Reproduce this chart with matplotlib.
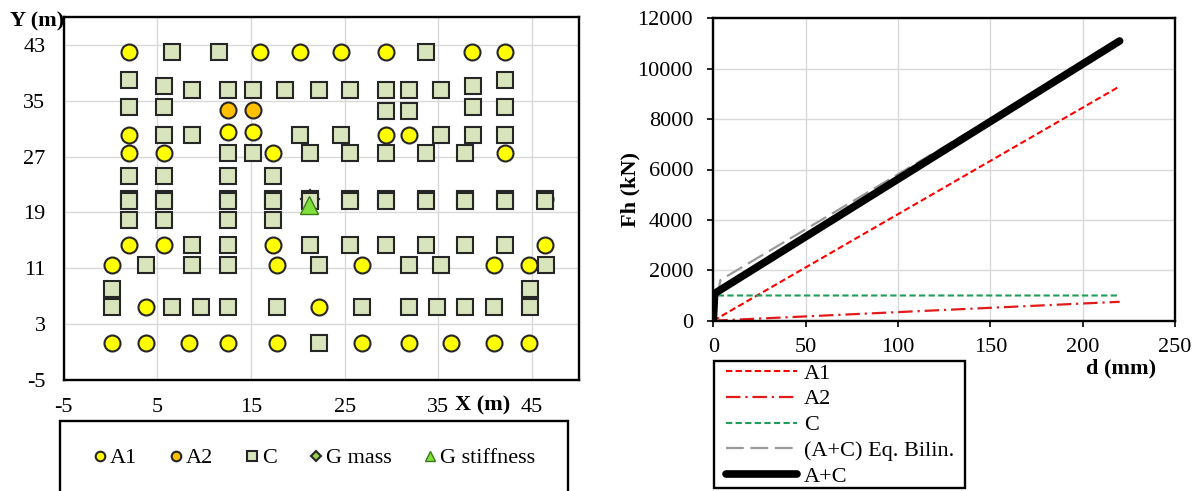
import matplotlib
matplotlib.use("Agg")
import matplotlib.pyplot as plt
from matplotlib.patches import Rectangle

plt.rcParams['font.family'] = 'Liberation Serif'
plt.rcParams['font.size'] = 16
plt.rcParams['axes.unicode_minus'] = False

# ---- plan view: element positions (m) ----
a1_x = [2.0, 16.0, 20.2, 24.6, 29.4, 38.6, 42.1,
        2.0, 12.6, 15.2, 29.4, 31.9,
        2.0, 5.7, 17.3, 42.1,
        46.4,
        2.0, 5.7, 17.3, 46.4,
        0.15, 17.8, 26.9, 40.9, 44.7,
        3.8, 22.3,
        0.15, 3.8, 8.4, 12.6, 17.8, 26.9, 31.9, 36.3, 40.9, 44.7]
a1_y = [42.0, 42.0, 42.0, 42.0, 42.0, 42.0, 42.0,
        30.1, 30.5, 30.5, 30.1, 30.1,
        27.5, 27.5, 27.5, 27.5,
        20.9,
        14.3, 14.3, 14.3, 14.3,
        11.5, 11.5, 11.5, 11.5, 11.5,
        5.4, 5.4,
        0.24, 0.24, 0.24, 0.24, 0.24, 0.24, 0.24, 0.24, 0.24, 0.24]

a2_x = [12.6, 15.2]
a2_y = [33.7, 33.7]

c_x = [6.6, 11.6, 33.7,
       2.0, 42.1,
       5.7, 38.7,
       8.7, 12.6, 15.2, 18.6, 22.3, 25.6, 29.4, 31.9, 35.3,
       2.0, 5.7, 38.7, 42.1,
       29.4, 31.9,
       5.7, 8.7, 20.2, 24.6, 35.3, 38.7, 42.1,
       12.6, 15.2, 21.3, 25.6, 29.4, 33.7, 37.8,
       2.0, 5.7, 12.6, 17.3,
       2.0, 5.7, 12.6, 17.3, 21.3, 25.6, 29.4, 33.7, 37.8, 42.1, 46.4,
       2.0, 5.7, 12.6, 17.3, 21.3, 25.6, 29.4, 33.7, 37.8, 42.1, 46.4,
       2.0, 5.7, 12.6, 17.3,
       8.7, 12.6, 21.3, 25.6, 29.4, 33.7, 37.8, 42.1,
       3.8, 8.7, 12.6, 22.3, 31.9, 35.3, 46.5,
       0.15, 44.75,
       0.15, 6.6, 9.7, 12.6, 17.8, 26.9, 31.9, 34.9, 37.8, 40.9, 44.75,
       22.3]
c_y = [42.0, 42.0, 42.0,
       38.0, 38.0,
       37.1, 37.1,
       36.6, 36.6, 36.6, 36.6, 36.6, 36.6, 36.6, 36.6, 36.6,
       34.1, 34.1, 34.1, 34.1,
       33.6, 33.6,
       30.1, 30.1, 30.1, 30.1, 30.1, 30.1, 30.1,
       27.5, 27.5, 27.5, 27.5, 27.5, 27.5, 27.5,
       24.2, 24.2, 24.2, 24.2,
       20.95, 20.95, 20.95, 20.95, 20.95, 20.95, 20.95, 20.95, 20.95, 20.95, 20.95,
       20.6, 20.6, 20.6, 20.6, 20.6, 20.6, 20.6, 20.6, 20.6, 20.6, 20.6,
       17.9, 17.9, 17.9, 17.9,
       14.3, 14.3, 14.3, 14.3, 14.3, 14.3, 14.3, 14.3,
       11.5, 11.5, 11.5, 11.5, 11.5, 11.5, 11.5,
       8.0, 8.0,
       5.4, 5.4, 5.4, 5.4, 5.4, 5.4, 5.4, 5.4, 5.4, 5.4, 5.4,
       0.24]

g_mass = (21.3, 20.9)
g_stiff = (21.2, 20.0)

# ---- capacity curves ----
d_a1, fh_a1 = [0, 220], [0, 9300]
d_a2, fh_a2 = [0, 220], [0, 750]
d_c, fh_c = [0, 0.5, 220], [0, 1000, 1000]
d_bil, fh_bil = [0, 3.8, 220], [0, 1610, 11050]
d_ac, fh_ac = [0, 0.7, 220], [0, 1080, 11100]

W, H = 1202, 491
fig = plt.figure(figsize=(W / 100, H / 100), dpi=100)

edge = '#262626'
grid_c = '#d9d9d9'

# ---------------- left: plan ----------------
ax1 = fig.add_axes([63.5 / W, 1 - 380 / H, (579 - 63.5) / W, (380 - 17) / H])
ax1.plot(a1_x, a1_y, ls='none', marker='o', ms=11.5, mfc='#ffff00', mec=edge, mew=1.5, label='A1', zorder=3)
ax1.plot(a2_x, a2_y, ls='none', marker='o', ms=11.5, mfc='#ffc000', mec=edge, mew=1.5, label='A2', zorder=3)
ax1.plot([g_mass[0]], [g_mass[1]], ls='none', marker='D', ms=9, mfc='#92d050', mec=edge, mew=1.5,
         label='G mass', zorder=3.5)
ax1.plot(c_x, c_y, ls='none', marker='s', ms=11.5, mfc='#d8e4bc', mec=edge, mew=1.5, label='C', zorder=4)
ax1.plot([g_stiff[0]], [g_stiff[1]], ls='none', marker='^', ms=13, mfc='#7fe03c', mec='#3d7a1a', mew=1.0,
         label='G stiffness', zorder=5)

ax1.set_xlim(-5, 50)
ax1.set_ylim(-5, 47)
ax1.set_xticks(range(-5, 46, 10))
ax1.set_yticks(range(-5, 44, 8))
ax1.grid(True, color=grid_c, lw=1.0)
ax1.set_axisbelow(True)
ax1.tick_params(length=0, pad=13)
for s in ax1.spines.values():
    s.set_linewidth(1.7)
fig.text(37 / W, 1 - 21 / H, 'Y (m)', fontweight='bold', ha='center', va='center')
fig.text(483 / W, 1 - 405 / H, 'X (m)', fontweight='bold', ha='center', va='center')

h, l = ax1.get_legend_handles_labels()
order = [0, 1, 3, 2, 4]
ax1.legend([h[i] for i in order], [l[i] for i in order], ncol=5, loc='center left',
           bbox_to_anchor=(94 / W, 1 - 458 / H), bbox_transform=fig.transFigure,
           frameon=False, markerscale=0.6, handlelength=0.5, handletextpad=0.2,
           columnspacing=1.5, borderpad=0, borderaxespad=0)
fig.add_artist(Rectangle((60 / W, -0.1), (568 - 60) / W, 0.1 + 1 - 421 / H,
                         transform=fig.transFigure, fill=False, ec='black', lw=1.7))

# ---------------- right: force-displacement ----------------
ax2 = fig.add_axes([713.3 / W, 1 - 320.7 / H, (1175 - 713.3) / W, (320.7 - 18.3) / H])
ax2.plot(d_a1, fh_a1, color='#ff0000', lw=1.5, ls=(0, (3, 1.6)), label='A1')
ax2.plot(d_a2, fh_a2, color='#e31a1a', lw=1.6, ls=(0, (6.5, 2.2, 1, 2.2)), label='A2')
ax2.plot(d_c, fh_c, color='#1f9e5a', lw=1.5, ls=(0, (3, 1.6)), label='C')
ax2.plot(d_bil, fh_bil, color='#999999', lw=1.6, ls=(0, (8, 3)), label='(A+C) Eq. Bilin.')
ax2.plot(d_ac, fh_ac, color='black', lw=5.5, solid_capstyle='round', label='A+C')

ax2.set_xlim(0, 250)
ax2.set_ylim(0, 12000)
ax2.set_xticks(range(0, 251, 50))
ax2.set_yticks(range(0, 12001, 2000))
ax2.grid(True, color=grid_c, lw=1.0)
ax2.set_axisbelow(True)
ax2.tick_params(direction='out', length=4.5, width=1.2, top=False, right=False)
ax2.tick_params(axis='y', pad=10)
ax2.tick_params(axis='x', pad=8)
for s in ax2.spines.values():
    s.set_linewidth(1.7)
fig.text(630 / W, 1 - 190 / H, 'Fh (kN)', fontweight='bold', rotation=90, ha='center', va='center')
fig.text(1121 / W, 1 - 368 / H, 'd (mm)', fontweight='bold', ha='center', va='center')

ax2.legend(loc='upper left', bbox_to_anchor=(726 / W, 1 - 363 / H), bbox_transform=fig.transFigure,
           frameon=False, handlelength=3.2, handletextpad=0.3, labelspacing=0.24,
           borderpad=0, borderaxespad=0)
fig.add_artist(Rectangle((714 / W, 1 - 488 / H), (965 - 714) / W, (488 - 361) / H,
                         transform=fig.transFigure, fill=False, ec='black', lw=1.7))

fig.savefig('out.png', dpi=100)
